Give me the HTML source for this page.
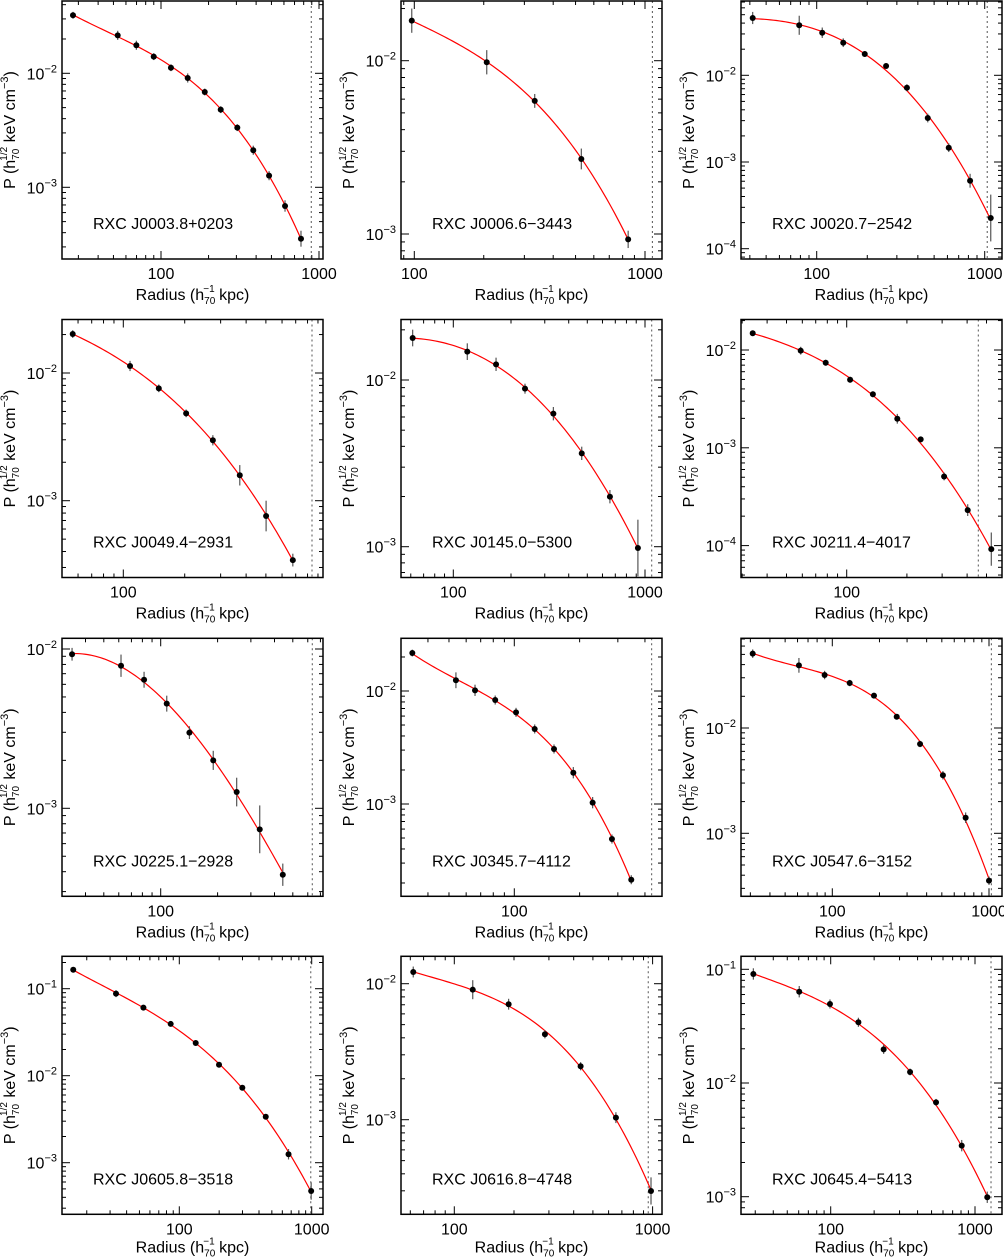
<!DOCTYPE html>
<html><head><meta charset="utf-8">
<style>
html,body{margin:0;padding:0;background:#fff;}
svg{display:block;font-family:"Liberation Sans",sans-serif;}
</style></head>
<body>
<svg id="fig" width="1004" height="1257" viewBox="0 0 1004 1257" xmlns="http://www.w3.org/2000/svg"></svg>
<script>
// Data: log10 radius (kpc), log10 pressure, error (dex)
const r1=[1.443,1.726,1.844,1.954,2.063,2.169,2.277,2.378,2.483,2.584,2.684,2.785,2.886];
const p1=[-1.491,-1.667,-1.754,-1.854,-1.951,-2.041,-2.164,-2.319,-2.477,-2.675,-2.898,-3.164,-3.451];
const e1=[0.03,0.04,0.04,0.03,0.03,0.04,0.03,0.03,0.03,0.04,0.04,0.05,0.07];
const r2=[1.989,2.314,2.522,2.724,2.927];
const p2=[-1.769,-2.009,-2.232,-2.567,-3.031];
const e2=[0.07,0.07,0.04,0.06,0.05];
const r3=[1.619,1.896,2.033,2.158,2.286,2.413,2.537,2.661,2.786,2.913,3.036];
const p3=[-1.339,-1.423,-1.509,-1.624,-1.754,-1.893,-2.143,-2.493,-2.835,-3.216,-3.646];
const e3=[0.07,0.11,0.06,0.05,0.03,0.03,0.04,0.05,0.05,0.08,0.27];
const r4=[1.752,2.033,2.174,2.308,2.439,2.571,2.700,2.831];
const p4=[-1.695,-1.945,-2.120,-2.316,-2.527,-2.801,-3.120,-3.465];
const e4=[0.03,0.04,0.03,0.03,0.04,0.08,0.12,0.05];
const r5=[1.788,2.073,2.223,2.374,2.522,2.670,2.817,2.963];
const p5=[-1.748,-1.830,-1.906,-2.052,-2.202,-2.440,-2.700,-3.008];
const e5=[0.05,0.05,0.04,0.03,0.04,0.04,0.04,0.17];
const r6=[1.530,1.770,1.895,2.017,2.131,2.253,2.370,2.487,2.605,2.723];
const p6=[-1.829,-2.007,-2.130,-2.304,-2.453,-2.703,-2.914,-3.293,-3.637,-4.036];
const e6=[0.02,0.04,0.03,0.03,0.03,0.05,0.03,0.04,0.06,0.17];
const r7=[1.531,1.790,1.912,2.032,2.152,2.278,2.402,2.524,2.646];
const p7=[-2.033,-2.105,-2.193,-2.343,-2.525,-2.699,-2.898,-3.132,-3.417];
const e7=[0.04,0.07,0.05,0.05,0.04,0.06,0.09,0.15,0.07];
const r8=[1.530,1.731,1.819,1.912,2.008,2.094,2.183,2.272,2.361,2.450,2.539];
const p8=[-1.664,-1.905,-1.994,-2.080,-2.189,-2.336,-2.513,-2.723,-2.988,-3.310,-3.670];
const e8=[0.03,0.07,0.05,0.04,0.04,0.04,0.04,0.05,0.05,0.04,0.04];
const r9=[1.492,1.787,1.951,2.111,2.266,2.411,2.560,2.706,2.851,3.000];
const p9=[-1.294,-1.405,-1.497,-1.573,-1.693,-1.893,-2.152,-2.449,-2.852,-3.450];
const e9=[0.04,0.07,0.04,0.03,0.02,0.02,0.03,0.04,0.05,0.04];
const r10=[1.199,1.522,1.729,1.935,2.124,2.300,2.476,2.653,2.825,2.996];
const p10=[-0.782,-1.057,-1.218,-1.405,-1.624,-1.874,-2.138,-2.472,-2.903,-3.325];
const e10=[0.02,0.04,0.03,0.02,0.03,0.03,0.03,0.03,0.06,0.10];
const r11=[1.793,2.093,2.274,2.457,2.637,2.815,2.992];
const p11=[-1.914,-2.044,-2.151,-2.372,-2.607,-2.985,-3.524];
const e11=[0.04,0.07,0.04,0.03,0.03,0.04,0.10];
const r12=[1.464,1.782,1.995,2.192,2.367,2.550,2.730,2.908,3.085];
const p12=[-1.041,-1.197,-1.305,-1.466,-1.704,-1.903,-2.170,-2.551,-3.005];
const e12=[0.05,0.05,0.04,0.04,0.04,0.03,0.03,0.05,0.05];
const clusterNames=["RXC J0003.8+0203","RXC J0006.6\u22123443","RXC J0020.7\u22122542","RXC J0049.4\u22122931","RXC J0145.0\u22125300","RXC J0211.4\u22124017","RXC J0225.1\u22122928","RXC J0345.7\u22124112","RXC J0547.6\u22123152","RXC J0605.8\u22123518","RXC J0616.8\u22124748","RXC J0645.4\u22125413"];
const r500Log=[2.951,3.032,3.015,2.925,3.035,2.658,2.802,2.633,3.015,2.993,2.978,3.111];
const xTickValues=[10,100,1000];

const radii=[r1,r2,r3,r4,r5,r6,r7,r8,r9,r10,r11,r12];
const press=[p1,p2,p3,p4,p5,p6,p7,p8,p9,p10,p11,p12];
const errs=[e1,e2,e3,e4,e5,e6,e7,e8,e9,e10,e11,e12];

// axis calibration (layout, not data)
const boxes=[[62,1],[401,1],[741,1],[62,319.5],[401,319.5],[741,319.5],[62,638.3],[401,638.3],[741,638.3],[62,956.3],[401,956.3],[741,956.3]];
const xCal=[[161,158],[414.3,230.7],[816.7,168],[123.3,204],[453.3,191.7],[846.7,200],[160.7,189],[514.3,217],[832.3,156.7],[179.3,132.4],[454.3,198.3],[830.7,144.3]];
const yCal=[[-2,73.3,114],[-2,60.7,173.3],[-2,75.3,86.7],[-2,373,127.7],[-2,380,166.7],[-2,350,97.8],[-2,649,159.3],[-2,691,113],[-2,728,105.3],[-1,988.7,87],[-2,983.7,136],[-1,969.3,113.7]];
const W=261,H=258;
const NS="http://www.w3.org/2000/svg";
const svg=document.getElementById('fig');
function mk(tag,attrs,parent){const e=document.createElementNS(NS,tag);for(const k in attrs)e.setAttribute(k,attrs[k]);(parent||svg).appendChild(e);return e;}

function fitCubic(xs,ys){
  const n=4;const A=[];for(let i=0;i<n;i++){A.push(new Array(n+1).fill(0));}
  for(let k=0;k<xs.length;k++){const x=xs[k],y=ys[k];
    for(let i=0;i<n;i++){for(let j=0;j<n;j++)A[i][j]+=Math.pow(x,i+j);A[i][n]+=y*Math.pow(x,i);}}
  for(let i=0;i<n;i++){let m=i;for(let r=i+1;r<n;r++)if(Math.abs(A[r][i])>Math.abs(A[m][i]))m=r;[A[i],A[m]]=[A[m],A[i]];
    for(let r=0;r<n;r++){if(r===i)continue;const f=A[r][i]/A[i][i];for(let c=i;c<=n;c++)A[r][c]-=f*A[i][c];}}
  const c=[];for(let i=0;i<n;i++)c.push(A[i][n]/A[i][i]);return c;
}

for(let i=0;i<12;i++){
  const [x0,y0]=boxes[i];const x1=x0+W,y1=y0+H;
  const [p100,dX]=xCal[i];const [yrefL,yrefP,dY]=yCal[i];
  const xs=lr=>p100+(lr-2)*dX;
  const ys=lp=>yrefP-(lp-yrefL)*dY;
  const g=mk('g',{});
  
  
  const clipId='clip'+i;
  const cp=mk('clipPath',{id:clipId},g);mk('rect',{x:x0,y:y0,width:W,height:H},cp);
  const lxMin=2+(x0-p100)/dX,lxMax=2+(x1-p100)/dX;
  for(let d=0;d<=3;d++){for(let m=1;m<10;m++){
    const lv=d+Math.log10(m);if(lv<lxMin||lv>lxMax)continue;const px=xs(lv);const len=m===1?8:4;
    mk('line',{x1:px,y1:y1,x2:px,y2:y1-len,stroke:'#000','stroke-width':1},g);
    mk('line',{x1:px,y1:y0,x2:px,y2:y0+len,stroke:'#000','stroke-width':1},g);
  }}
  xTickValues.forEach(v=>{const lv=Math.log10(v);if(lv<lxMin-0.005||lv>lxMax+0.005)return;
    const t=mk('text',{x:xs(lv),y:y1+20,'font-size':16,'text-anchor':'middle'},g);t.textContent=String(v);
    });
  const lyMax=yrefL+(yrefP-y0)/dY,lyMin=yrefL-(y1-yrefP)/dY;
  for(let d=-5;d<=0;d++){for(let m=1;m<10;m++){
    const lv=d+Math.log10(m);if(lv<lyMin||lv>lyMax)continue;const py=ys(lv);const len=m===1?8:4;
    mk('line',{x1:x0,y1:py,x2:x0+len,y2:py,stroke:'#000','stroke-width':1},g);
    mk('line',{x1:x1,y1:py,x2:x1-len,y2:py,stroke:'#000','stroke-width':1},g);
    if(m===1){const t=mk('text',{x:x0-5,y:py+6,'font-size':16,'text-anchor':'end'},g);
      
      t.appendChild(document.createTextNode('10'));
      const ts=mk('tspan',{dy:-7,'font-size':11},t);ts.textContent='\u2212'+(-d);}
  }}
  const vl=mk('line',{x1:xs(r500Log[i]),y1:y0,x2:xs(r500Log[i]),y2:y1,stroke:'#555','stroke-width':1,'stroke-dasharray':'2,3'},g);
  
  const R=radii[i],P=press[i],E=errs[i];
  const c=fitCubic(R,P);let d='';
  const a=R[0],b=R[R.length-1];
  for(let k=0;k<=80;k++){const lr=a+(b-a)*k/80;const lp=c[0]+c[1]*lr+c[2]*lr*lr+c[3]*lr*lr*lr;
    d+=(k?'L':'M')+xs(lr).toFixed(2)+','+ys(lp).toFixed(2);}
  const cv=mk('path',{d:d,fill:'none',stroke:'#f00','stroke-width':1.2,'clip-path':'url(#'+clipId+')'},g);
  
  for(let k=0;k<R.length;k++){const px=xs(R[k]);
    const eb=mk('line',{x1:px,y1:ys(P[k]+E[k]),x2:px,y2:ys(P[k]-E[k]),stroke:'#555','stroke-width':1.2},g);
    
    const pt=mk('circle',{cx:px,cy:ys(P[k]),r:3,fill:'#000'},g);
    }
  const fr=mk('rect',{x:x0,y:y0,width:W,height:H,fill:'none',stroke:'#000','stroke-width':1.5},g);
  
  const lb=mk('text',{x:x0+31,y:y1-30,'font-size':16},g);lb.textContent=clusterNames[i];
  
  const ty=i>=9?y1+38:y1+41;
  const xt=mk('text',{x:x0+W/2,y:ty,'font-size':16,'text-anchor':'middle'},g);
  
  xt.appendChild(document.createTextNode('Radius (h'));
  let s1=mk('tspan',{dy:4,'font-size':10},xt);s1.textContent='70';
  let s2=mk('tspan',{dx:-12,dy:-12,'font-size':10},xt);s2.textContent='\u22121';
  let s3=mk('tspan',{dy:8},xt);s3.textContent=' kpc)';
  const cx=x0-47,cy=y0+H/2;
  const yt=mk('text',{x:cx,y:cy,'font-size':16,'text-anchor':'middle',transform:'rotate(-90 '+cx+' '+cy+')'},g);
  
  yt.appendChild(document.createTextNode('P (h'));
  let u1=mk('tspan',{dy:4,'font-size':10},yt);u1.textContent='70';
  let u2=mk('tspan',{dx:-12,dy:-12,'font-size':10},yt);u2.textContent='1/2';
  let u3=mk('tspan',{dy:8},yt);u3.textContent=' keV cm';
  let u4=mk('tspan',{dy:-7,'font-size':11},yt);u4.textContent='\u22123';
  let u5=mk('tspan',{dy:7},yt);u5.textContent=')';
}
</script>
</body></html>
